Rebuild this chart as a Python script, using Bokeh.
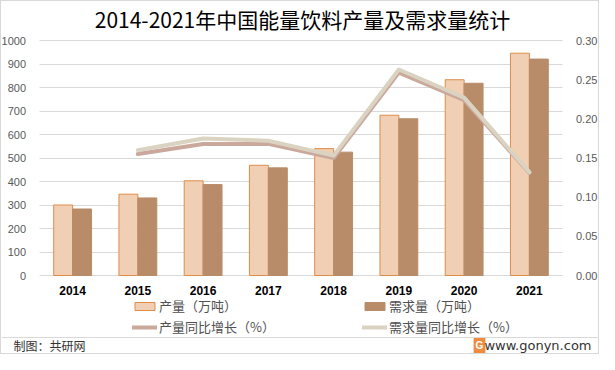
from bokeh.plotting import figure
from bokeh.models import (FactorRange, Range1d, LinearAxis, Legend, LegendItem, Label, Span,
                          FixedTicker, NumeralTickFormatter, ColumnDataSource)
from bokeh.transform import dodge
from bokeh.embed import file_html
from bokeh.resources import INLINE

# ---- data ----
years = ["2014", "2015", "2016", "2017", "2018", "2019", "2020", "2021"]
production = [300, 346, 403, 469, 540, 682, 833, 946]          # 产量（万吨）
demand = [283, 330, 387, 458, 525, 667, 818, 921]              # 需求量（万吨）
growth_years = ["2015", "2016", "2017", "2018", "2019", "2020", "2021"]
production_growth = [0.155, 0.168, 0.168, 0.150, 0.259, 0.224, 0.131]
demand_growth = [0.160, 0.175, 0.172, 0.153, 0.263, 0.227, 0.132]
left_ticks = [0, 100, 200, 300, 400, 500, 600, 700, 800, 900, 1000]
right_ticks = [0.0, 0.05, 0.10, 0.15, 0.20, 0.25, 0.30]

title_text = "2014-2021年中国能量饮料产量及需求量统计"
legend_labels = ["产量（万吨）", "需求量（万吨）", "产量同比增长（%）", "需求量同比增长（%）"]
source_text = "制图：共研网"
site_text = "www.gonyn.com"
cjk = "Noto Sans CJK SC"

# ---- layout (pixels) ----
W, H = 599, 354
PAD = 0.59                       # category padding on each side
CATW = W / (len(years) + 2 * PAD)
Y_TOP, Y_ZERO = 39, 274          # pixel rows of 1000 / 0
PPU = (Y_ZERO - Y_TOP) / 1000.0
PPU2 = (Y_ZERO - Y_TOP) / 0.30

def px2x(px):
    return -PAD + px / CATW

def px2y(py):
    return (Y_ZERO - py) / PPU

bars = ColumnDataSource(dict(year=years, prod=production, dem=demand))
lines = ColumnDataSource(dict(year=growth_years, pg=production_growth, dg=demand_growth))

p = figure(x_range=FactorRange(factors=years, range_padding=PAD, range_padding_units="absolute"),
           y_range=Range1d(-(H - Y_ZERO) / PPU, 1000 + Y_TOP / PPU),
           width=W, height=H, output_backend="svg", toolbar_location=None, min_border=0)
p.outline_line_color = None
p.styles = {"border": "1px solid #d9d9d9"}
p.extra_y_ranges = {"pct": Range1d(-(H - Y_ZERO) / PPU2, 0.30 + Y_TOP / PPU2)}

# left axis
ax = p.left[0]
ax.ticker = FixedTicker(ticks=left_ticks)
ax.fixed_location = 0
ax.axis_line_color = None
ax.major_tick_line_color = None
ax.minor_tick_line_color = None
ax.major_label_standoff = 8
ax.major_label_text_font = "Liberation Sans"
ax.major_label_text_font_size = "11px"
ax.major_label_text_color = "#595959"

# bottom axis
bx = p.below[0]
bx.fixed_location = 0
bx.axis_line_color = None
bx.major_tick_line_color = None
bx.major_label_standoff = 4
bx.major_label_text_font = "Liberation Sans"
bx.major_label_text_font_size = "12px"
bx.major_label_text_font_style = "bold"
bx.major_label_text_color = "#000000"

p.xgrid.grid_line_color = None
p.ygrid.grid_line_color = "#d9d9d9"
p.ygrid.grid_line_width = 1
try:
    p.ygrid.cross_bounds = (0, len(years))
except Exception:
    pass

# right axis
rx = LinearAxis(y_range_name="pct", ticker=FixedTicker(ticks=right_ticks),
                formatter=NumeralTickFormatter(format="0.00"), fixed_location=len(years))
rx.axis_line_color = None
rx.major_tick_line_color = None
rx.minor_tick_line_color = None
rx.major_label_standoff = 8
rx.major_label_text_font = "Liberation Sans"
rx.major_label_text_font_size = "11px"
rx.major_label_text_color = "#595959"
p.add_layout(rx, "right")

r_prod = p.vbar(x=dodge("year", -0.145, range=p.x_range), top="prod", width=0.29, source=bars,
                fill_color="#f0cfb4", line_color="#de8d4b", line_width=1)
r_dem = p.vbar(x=dodge("year", 0.145, range=p.x_range), top="dem", width=0.29, source=bars,
               fill_color="#b98c69", line_color="#b98c69", line_width=1)
l_prod = p.line(x="year", y="pg", source=lines, y_range_name="pct", line_width=4,
                line_color="#caa89c", line_join="round", line_cap="round")
l_dem = p.line(x="year", y="dg", source=lines, y_range_name="pct", line_width=4,
               line_color="#dbd3c2", line_join="round", line_cap="round")

def make_legend(items, loc):
    lg = Legend(items=items, location=loc, orientation="vertical",
                padding=0, margin=0, spacing=2, label_height=15, glyph_height=10,
                glyph_width=25, label_standoff=2, label_text_font=cjk,
                label_text_font_size="13px", label_text_color="#505050",
                label_text_baseline="middle",
                background_fill_alpha=0, border_line_alpha=0)
    p.add_layout(lg)
    return lg

make_legend([LegendItem(label=legend_labels[0], renderers=[r_prod]),
             LegendItem(label=legend_labels[2], renderers=[l_prod])], (131, 19))
make_legend([LegendItem(label=legend_labels[1], renderers=[r_dem]),
             LegendItem(label=legend_labels[3], renderers=[l_dem])], (361, 19))

p.add_layout(Label(x=px2x(301), y=px2y(17), text=title_text, text_align="center",
                   text_baseline="middle", text_font=cjk, text_font_size="21px",
                   text_color="#000000"))
p.add_layout(Span(location=px2y(336), dimension="width", line_color="#d9d9d9", line_width=1))
p.add_layout(Label(x=px2x(12), y=px2y(344), text=source_text, text_align="left",
                   text_baseline="middle", text_font=cjk, text_font_size="12px",
                   text_color="#333333"))
p.add_layout(Label(x=px2x(478), y=px2y(344), text="G", text_align="center", text_baseline="middle",
                   text_font="Liberation Sans", text_font_size="10px", text_font_style="bold",
                   text_color="#ffffff", background_fill_color="#f08a3c", padding=2))
p.add_layout(Label(x=px2x(590), y=px2y(344), text=site_text, text_align="right",
                   text_baseline="middle", text_font="DejaVu Sans", text_font_size="13px",
                   text_color="#333333"))

open("out.html", "w").write(file_html(p, INLINE))
